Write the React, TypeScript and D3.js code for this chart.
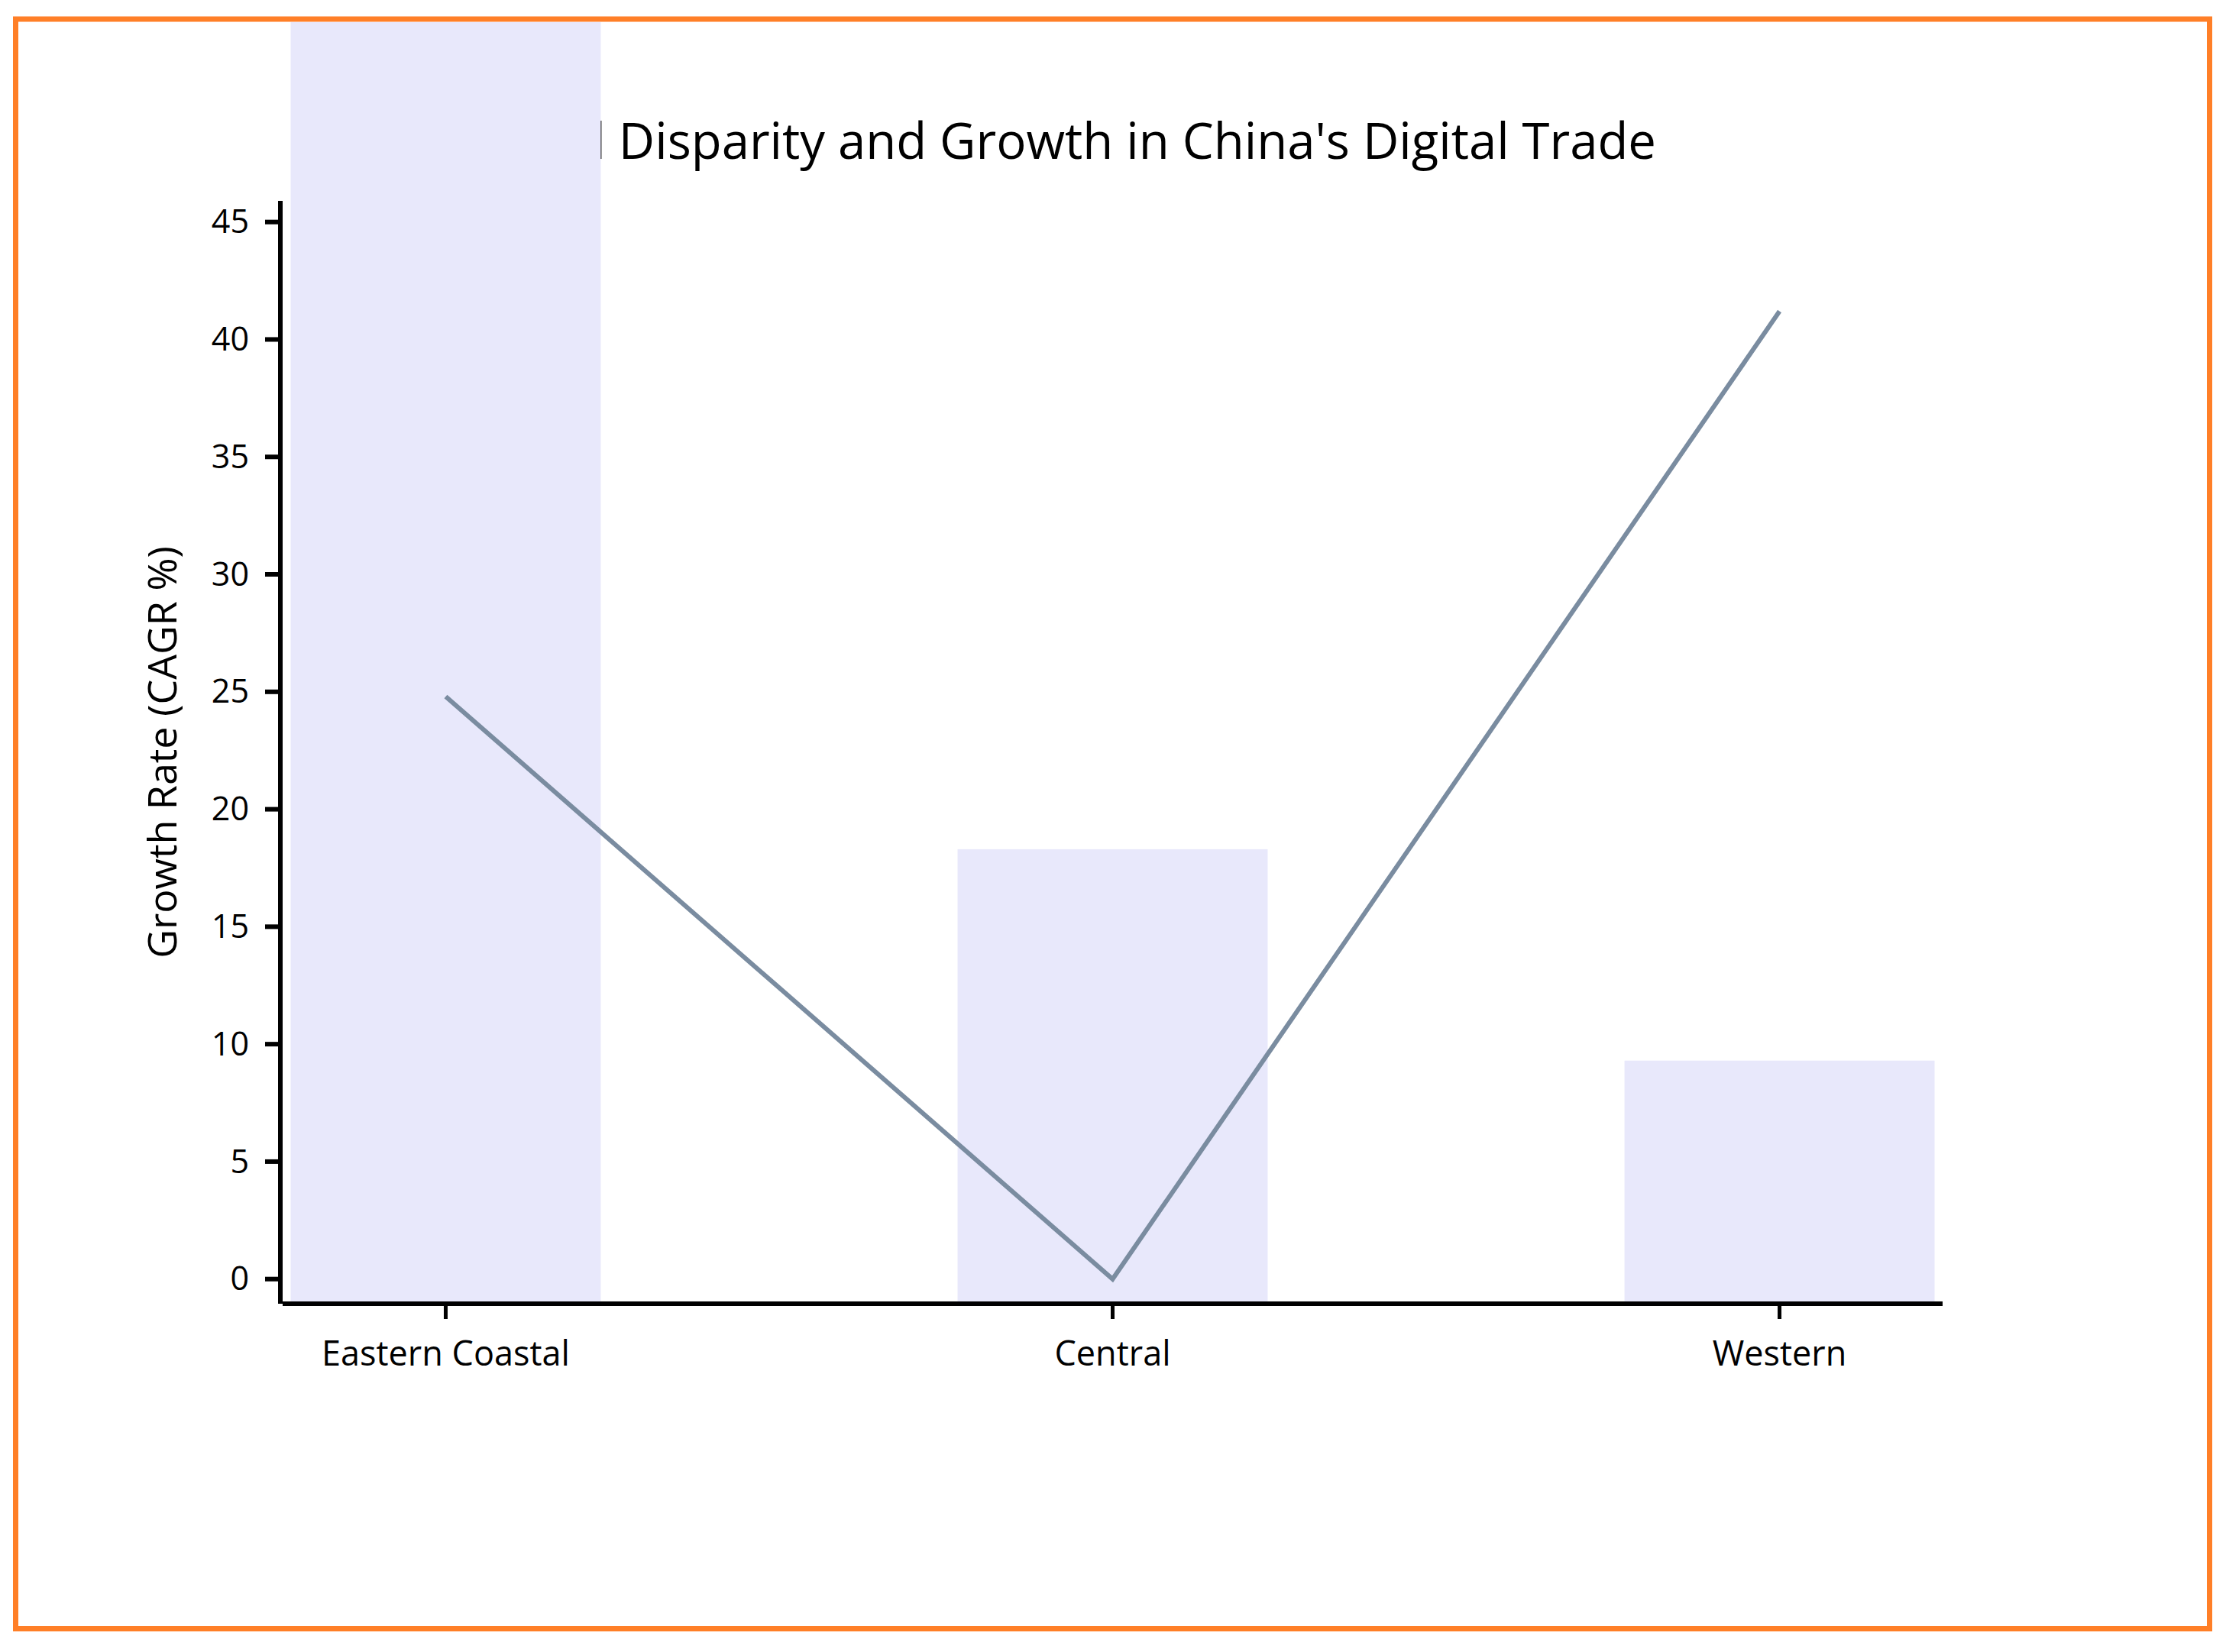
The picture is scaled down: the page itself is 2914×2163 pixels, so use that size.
import React from "react";
import * as d3 from "d3";

const categories = ["Eastern Coastal", "Central", "Western"];
const shareValues = [72.4, 18.3, 9.3];
const growthValues = [24.8, 0, 41.2];
const yTicks = [0, 5, 10, 15, 20, 25, 30, 35, 40, 45];
const titleText = "Regional Disparity and Growth in China's Digital Trade";
const yLabel = "Growth Rate (CAGR %)";

const W = 2914;
const H = 2163;
const FONT = "'Open Sans', 'Noto Sans', sans-serif";

export default function App() {
  const x = d3
    .scaleBand<string>()
    .domain(categories)
    .range([370, 2543])
    .paddingInner(0.535)
    .paddingOuter(0.012);
  const y = d3.scaleLinear().domain([-1.05, 45.9]).range([1707, 263]);
  const [y0, y1] = y.range();
  const [x0, x1] = x.range();

  const line = d3
    .line<number>()
    .x((_, i) => (x(categories[i]) as number) + x.bandwidth() / 2)
    .y((d) => y(d));

  return (
    <svg
      width={W}
      height={H}
      style={{ position: "absolute", left: 0, top: 0, background: "#fff" }}
    >
      <defs>
        <clipPath id="inner">
          <rect x={24} y={29} width={2865} height={2100} />
        </clipPath>
      </defs>
      <rect x={20.5} y={25} width={2872} height={2107.5} fill="#fff" stroke="#ff7f27" strokeWidth={7} />
      <g clipPath="url(#inner)" fontFamily={FONT} fontWeight={500}>
        <text x={2168} y={208} textAnchor="end" fontSize={65.25} fill="#000">
          {titleText}
        </text>
        {categories.map((c, i) => (
          <rect
            key={c}
            x={x(c)}
            y={y(shareValues[i])}
            width={x.bandwidth()}
            height={y0 - y(shareValues[i])}
            fill="#e8e8fb"
          />
        ))}
        <path d={line(growthValues) || ""} fill="none" stroke="#7a8ca0" strokeWidth={6} />
        {/* y axis */}
        <g>
          <line x1={367} x2={367} y1={y1} y2={y0} stroke="#000" strokeWidth={6} />
          {yTicks.map((t) => (
            <g key={t} transform={`translate(0,${y(t)})`}>
              <line x1={347} x2={367} stroke="#000" strokeWidth={6} />
              <text x={326} dy="0.34em" textAnchor="end" fontSize={43} fill="#000">
                {t}
              </text>
            </g>
          ))}
          <text
            transform={`translate(231,${(y0 + y1) / 2}) rotate(-90)`}
            textAnchor="middle"
            fontSize={52}
            fill="#000"
          >
            {yLabel}
          </text>
        </g>
        {/* x axis */}
        <g>
          <line x1={x0} x2={x1} y1={y0} y2={y0} stroke="#000" strokeWidth={6} />
          {categories.map((c) => {
            const cx = (x(c) as number) + x.bandwidth() / 2;
            return (
              <g key={c} transform={`translate(${cx},0)`}>
                <line y1={y0} y2={y0 + 20} stroke="#000" strokeWidth={5} />
                <text y={1788} textAnchor="middle" fontSize={45} fill="#000">
                  {c}
                </text>
              </g>
            );
          })}
        </g>
      </g>
    </svg>
  );
}
